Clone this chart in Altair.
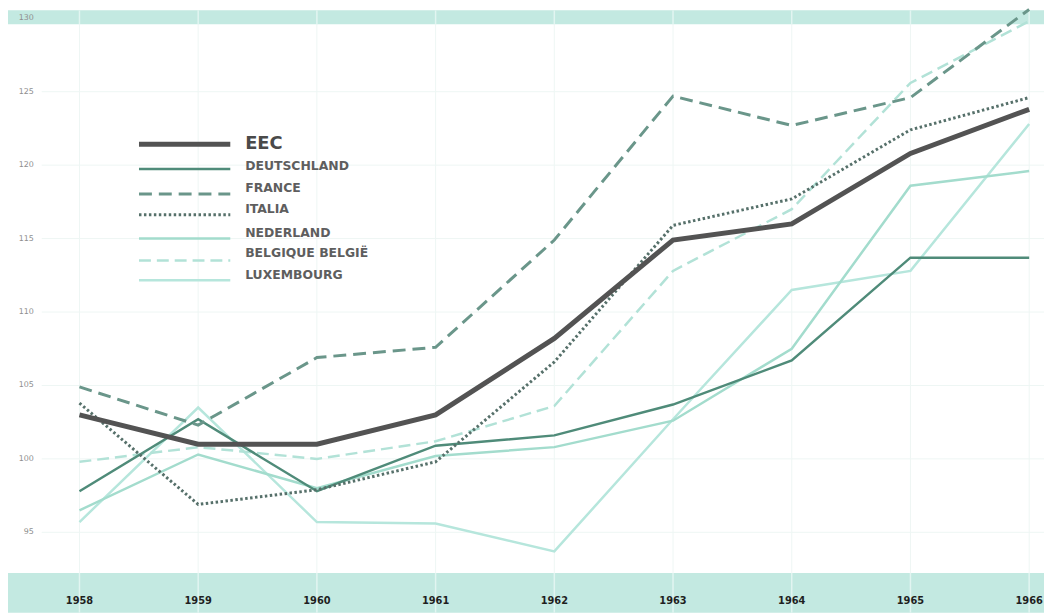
import altair as alt
import pandas as pd

# ---------------- data ----------------
years = [1958, 1959, 1960, 1961, 1962, 1963, 1964, 1965, 1966]
series_names = ["EEC", "DEUTSCHLAND", "FRANCE", "ITALIA", "NEDERLAND",
                "BELGIQUE BELGIË", "LUXEMBOURG"]
eec = [103.0, 101.0, 101.0, 103.0, 108.2, 114.9, 116.0, 120.8, 123.8]
deutschland = [97.8, 102.7, 97.8, 100.9, 101.6, 103.7, 106.7, 113.7, 113.7]
france = [104.9, 102.3, 106.9, 107.6, 114.9, 124.7, 122.7, 124.6, 130.6]
italia = [103.8, 96.9, 97.9, 99.8, 106.6, 115.9, 117.7, 122.4, 124.6]
nederland = [96.5, 100.3, 98.0, 100.2, 100.8, 102.6, 107.5, 118.6, 119.6]
belgique = [99.8, 100.8, 100.0, 101.2, 103.6, 112.8, 117.0, 125.6, 129.8]
luxembourg = [95.7, 103.5, 95.7, 95.6, 93.7, 102.7, 111.5, 112.8, 122.8]
y_ticks = [95, 100, 105, 110, 115, 120, 125, 130]

values = {
    "EEC": eec, "DEUTSCHLAND": deutschland, "FRANCE": france,
    "ITALIA": italia, "NEDERLAND": nederland,
    "BELGIQUE BELGIË": belgique, "LUXEMBOURG": luxembourg,
}

# ---------------- styles ----------------
W, H = 1044, 607
TEAL = "#c3e9e1"
BAND_LINE = "#e2f5f1"
GRID = "#eef6f4"
styles = {
    "EEC": dict(color="#535353", strokeWidth=5),
    "DEUTSCHLAND": dict(color="#4f8b79", strokeWidth=2.5),
    "FRANCE": dict(color="#6a968a", strokeWidth=3, strokeDash=[13, 7]),
    "ITALIA": dict(color="#56706a", strokeWidth=3, strokeDash=[2.5, 2.5]),
    "NEDERLAND": dict(color="#a3dccd", strokeWidth=2.5),
    "BELGIQUE BELGIË": dict(color="#b2e2d7", strokeWidth=2.5, strokeDash=[12, 6]),
    "LUXEMBOURG": dict(color="#b6e6dc", strokeWidth=2.5),
}
draw_order = ["LUXEMBOURG", "BELGIQUE BELGIË", "NEDERLAND", "DEUTSCHLAND",
              "ITALIA", "FRANCE", "EEC"]

xscale = alt.Scale(domain=[1957.398, 1966.125], nice=False, zero=False)
yscale = alt.Scale(domain=[89.53, 130.54], nice=False, zero=False)

one = pd.DataFrame({"a": [0]})
years_df = pd.DataFrame({"year": years, "label": [str(y) for y in years]})
ticks_df = pd.DataFrame({"v": y_ticks, "label": [str(t) for t in y_ticks]})

layers = []
# bands
layers.append(alt.Chart(one).mark_rect(color=TEAL).encode(
    x=alt.value(0), x2=alt.value(W), y=alt.value(0), y2=alt.value(14)))
layers.append(alt.Chart(one).mark_rect(color=TEAL).encode(
    x=alt.value(0), x2=alt.value(W), y=alt.value(567), y2=alt.value(H)))

# horizontal grid
layers.append(alt.Chart(ticks_df[ticks_df.v < 130]).mark_rule(color=GRID, strokeWidth=1).encode(
    y=alt.Y("v:Q", scale=yscale, axis=None), x=alt.value(34), x2=alt.value(W)))
# vertical grid in white area and in bands
X = alt.X("year:Q", scale=xscale, axis=None)
layers.append(alt.Chart(years_df).mark_rule(color=GRID, strokeWidth=1).encode(
    x=X, y=alt.value(14), y2=alt.value(567)))
layers.append(alt.Chart(years_df).mark_rule(color=BAND_LINE, strokeWidth=1.5).encode(
    x=X, y=alt.value(0), y2=alt.value(14)))
layers.append(alt.Chart(years_df).mark_rule(color=BAND_LINE, strokeWidth=1.5).encode(
    x=X, y=alt.value(567), y2=alt.value(H)))

# y labels
layers.append(alt.Chart(ticks_df).mark_text(
    align="right", baseline="middle", fontSize=8, color="#8f8f8f",
    font="DejaVu Sans").encode(
    y=alt.Y("v:Q", scale=yscale, axis=None), x=alt.value(26), text="label:N"))
# x labels
layers.append(alt.Chart(years_df).mark_text(
    align="center", baseline="middle", fontSize=11, fontWeight="bold",
    color="#1f1f1f", font="DejaVu Sans Condensed, Roboto, sans-serif").encode(
    x=X, y=alt.value(595), text="label:N"))

# data lines
for name in draw_order:
    df = pd.DataFrame({"year": years, "value": values[name]})
    layers.append(alt.Chart(df).mark_line(strokeJoin="miter", **styles[name]).encode(
        x=X, y=alt.Y("value:Q", scale=yscale, axis=None)))

# legend (manual)
row_line_y = [135, 160, 185, 206, 230, 252, 272]
row_text_y = [135, 157, 179, 200, 224, 245, 267]
for i, name in enumerate(series_names):
    st = dict(styles[name])
    layers.append(alt.Chart(one).mark_rule(**st).encode(
        x=alt.value(132), x2=alt.value(224), y=alt.value(row_line_y[i])))
    layers.append(alt.Chart(one).mark_text(
        align="left", baseline="middle",
        fontSize=18 if name == "EEC" else 12.5, fontWeight="bold",
        color="#4a4a4a" if name == "EEC" else "#5e5e5e", font="DejaVu Sans").encode(
        x=alt.value(239), y=alt.value(row_text_y[i]), text=alt.value(name)))

chart = alt.layer(*layers).properties(
    width=W, height=H, autosize=alt.AutoSizeParams(type="none"), padding=0,
    background="white"
).configure_view(stroke=None)

chart.save("out.html", embed_options={"renderer": "svg", "actions": False})
